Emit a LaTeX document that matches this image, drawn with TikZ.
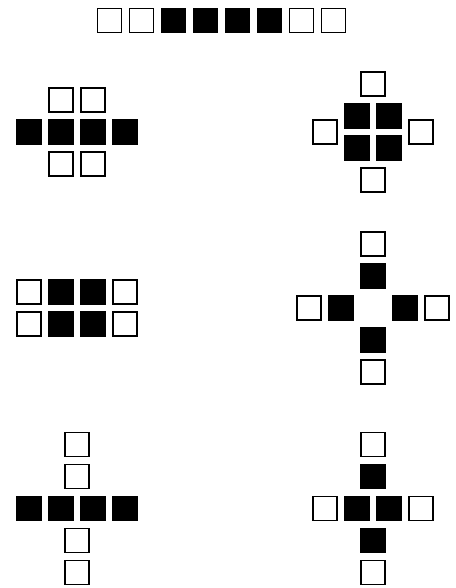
\documentclass[tikz,border=0pt]{standalone}
\begin{document}
\begin{tikzpicture}[x=32pt,y=-32pt,
	cell/.style={draw=black,line width=1.5pt,minimum size=24pt,inner sep=0pt},
	off/.style={cell,fill=white},
	on/.style={cell,fill=black}]
	\useasboundingbox (0,0) rectangle (14.21875,18.375);
	% top row
	\foreach \k/\s in {1/off,2/off,3/on,4/on,5/on,6/on,7/off,8/off}
		\node[\s] (t\k) at (2.42+\k,0.64) {};
	% left column
	\begin{scope}[shift={(2.406,4.125)}]
		\foreach \k/\x in {1/-1.5,2/-0.5,3/0.5,4/1.5}
			\node[on] (a\k) at (\x,0) {};
		\node[off] (au1) at (-0.5,-1) {};
		\node[off] (au2) at (0.5,-1) {};
		\node[off] (ad1) at (-0.5,1) {};
		\node[off] (ad2) at (0.5,1) {};
	\end{scope}
	\begin{scope}[shift={(2.406,9.63)}]
		\foreach \r/\y in {u/-0.5,d/0.5} {
			\node[off] (c\r1) at (-1.5,\y) {};
			\node[on] (c\r2) at (-0.5,\y) {};
			\node[on] (c\r3) at (0.5,\y) {};
			\node[off] (c\r4) at (1.5,\y) {};
		}
	\end{scope}
	\begin{scope}[shift={(2.406,15.89)}]
		\foreach \k/\x in {1/-1.5,2/-0.5,3/0.5,4/1.5}
			\node[on] (e\k) at (\x,0) {};
		\node[off] (eu2) at (0,-2) {};
		\node[off] (eu1) at (0,-1) {};
		\node[off] (ed1) at (0,1) {};
		\node[off] (ed2) at (0,2) {};
	\end{scope}
	% right column
	\begin{scope}[shift={(11.66,4.125)}]
		\node[on] (b1) at (-0.5,-0.5) {};
		\node[on] (b2) at (0.5,-0.5) {};
		\node[on] (b3) at (-0.5,0.5) {};
		\node[on] (b4) at (0.5,0.5) {};
		\node[off] (bu) at (0,-1.5) {};
		\node[off] (bd) at (0,1.5) {};
		\node[off] (bl) at (-1.5,0) {};
		\node[off] (br) at (1.5,0) {};
	\end{scope}
	\begin{scope}[shift={(11.66,9.63)}]
		\node[on] (du1) at (0,-1) {};
		\node[on] (dl1) at (-1,0) {};
		\node[on] (dr1) at (1,0) {};
		\node[on] (dd1) at (0,1) {};
		\node[off] (du2) at (0,-2) {};
		\node[off] (dl2) at (-2,0) {};
		\node[off] (dr2) at (2,0) {};
		\node[off] (dd2) at (0,2) {};
	\end{scope}
	\begin{scope}[shift={(11.66,15.89)}]
		\node[off] (f1) at (-1.5,0) {};
		\node[on] (f2) at (-0.5,0) {};
		\node[on] (f3) at (0.5,0) {};
		\node[off] (f4) at (1.5,0) {};
		\node[on] (fu1) at (0,-1) {};
		\node[on] (fd1) at (0,1) {};
		\node[off] (fu2) at (0,-2) {};
		\node[off] (fd2) at (0,2) {};
	\end{scope}
\end{tikzpicture}
\end{document}
